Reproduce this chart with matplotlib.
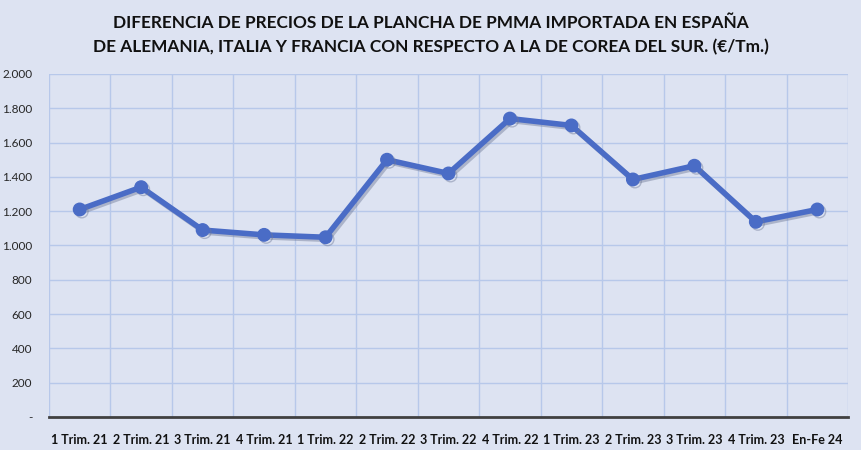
import matplotlib
matplotlib.use("Agg")
from matplotlib import pyplot as plt
from matplotlib import patheffects as pe
from matplotlib.ticker import FuncFormatter

# data
categories = ["1 Trim. 21", "2 Trim. 21", "3 Trim. 21", "4 Trim. 21", "1 Trim. 22",
              "2 Trim. 22", "3 Trim. 22", "4 Trim. 22", "1 Trim. 23", "2 Trim. 23",
              "3 Trim. 23", "4 Trim. 23", "En-Fe 24"]
diferencia = [1210, 1340, 1090, 1062, 1048, 1500, 1420, 1740, 1700, 1385, 1465, 1138, 1210]

title = ("DIFERENCIA DE PRECIOS DE LA PLANCHA DE PMMA IMPORTADA EN ESPAÑA\n"
         "DE ALEMANIA, ITALIA Y FRANCIA CON RESPECTO A LA DE COREA DEL SUR. (€/Tm.)")

bg = '#DDE3F2'
grid_c = '#B7C8EA'
line_c = '#4A6CC6'

plt.rcParams['font.family'] = ['Lato', 'DejaVu Sans']
plt.rcParams['font.weight'] = 'bold'

fig = plt.figure(figsize=(8.62, 4.5), dpi=100, facecolor=bg)
ax = fig.add_axes([0.0568, 0.0733, 0.927, 0.7623])
ax.set_facecolor(bg)

x = list(range(len(categories)))
ax.plot(x, diferencia, color=line_c, lw=4, marker='o', ms=9, mfc=line_c, mec=line_c,
        solid_joinstyle='round', zorder=3,
        path_effects=[pe.SimpleLineShadow(offset=(1.5, -1.5), shadow_color='#6f7a98', alpha=0.45),
                      pe.Normal()])

ax.set_xlim(-0.5, len(categories) - 0.5)
ax.set_ylim(0, 2000)
ax.set_yticks(range(0, 2001, 200))
ax.yaxis.set_major_formatter(FuncFormatter(
    lambda v, p: '-' if v == 0 else f"{int(v):,}".replace(',', '.')))
ax.set_xticks(x)
ax.set_xticklabels(categories)
ax.set_xticks([i + 0.5 for i in range(-1, len(categories))], minor=True)

ax.grid(which='minor', axis='x', color=grid_c, lw=1)
ax.grid(which='major', axis='y', color=grid_c, lw=1)
ax.set_axisbelow(True)

for s in ['top', 'right', 'left']:
    ax.spines[s].set_visible(False)
ax.spines['bottom'].set_color('#404040')
ax.spines['bottom'].set_linewidth(2)

ax.tick_params(axis='both', which='both', length=0)
ax.tick_params(axis='x', labelsize=9, pad=12, labelcolor='#111111')
ax.tick_params(axis='y', labelsize=8.5, pad=12, labelcolor='#262626')
for t in ax.get_yticklabels():
    t.set_fontweight('normal')

fig.text(0.5, 0.923, title, ha='center', va='center', fontsize=12.4, fontweight='bold',
         color='#111111', linespacing=1.6)

fig.savefig('out.png', dpi=100, facecolor=bg)
